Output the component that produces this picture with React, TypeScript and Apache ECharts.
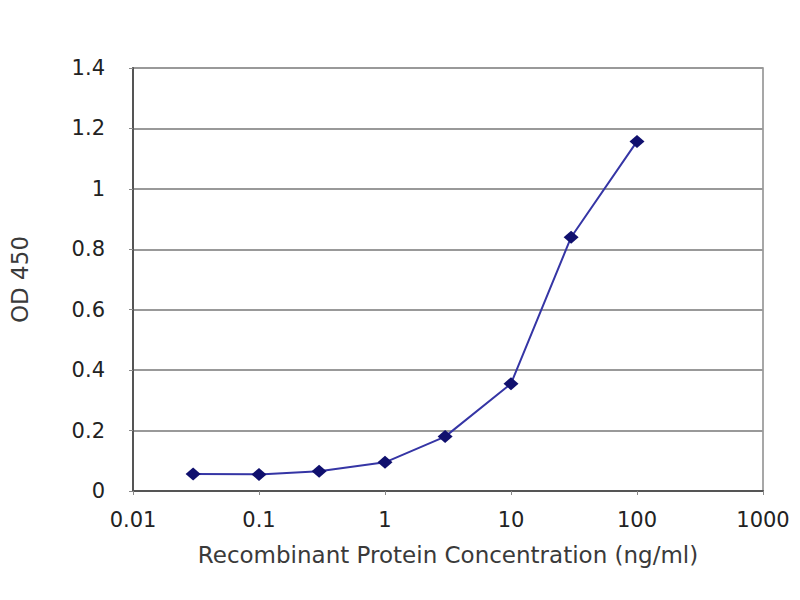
import React, { useEffect, useRef } from "react";
import * as echarts from "echarts";

const concentrations = [0.03, 0.1, 0.3, 1, 3, 10, 30, 100];
const od450 = [0.056, 0.055, 0.065, 0.095, 0.18, 0.355, 0.84, 1.157];
const xTickLabels = ["0.01", "0.1", "1", "10", "100", "1000"];
const yTicks = [0, 0.2, 0.4, 0.6, 0.8, 1, 1.2, 1.4];

export default function App() {
  const ref = useRef<HTMLDivElement>(null);
  useEffect(() => {
    if (!ref.current) return;
    const chart = echarts.init(ref.current, undefined, { renderer: "svg" });
    const font = "DejaVu Sans";
    chart.setOption({
      animation: false,
      backgroundColor: "#ffffff",
      grid: {
        left: 133,
        right: 37,
        top: 68,
        bottom: 109,
        show: true,
        borderColor: "#8a8a8a",
        borderWidth: 1.5,
      },
      xAxis: {
        type: "log",
        logBase: 10,
        min: 0.01,
        max: 1000,
        name: "Recombinant Protein Concentration (ng/ml)",
        nameLocation: "middle",
        nameGap: 52,
        nameTextStyle: { fontFamily: font, fontSize: 23, color: "#3a3a3a" },
        axisLine: { show: true, lineStyle: { color: "#555", width: 2 } },
        axisTick: { show: true, length: 4, lineStyle: { color: "#888" } },
        splitLine: { show: false },
        minorTick: { show: false },
        axisLabel: {
          fontFamily: font,
          fontSize: 21,
          color: "#222",
          margin: 18,
          formatter: (v: number) => {
            const idx = Math.round(Math.log10(v)) + 2;
            return xTickLabels[idx] ?? String(v);
          },
        },
      },
      yAxis: {
        type: "value",
        min: 0,
        max: 1.4,
        interval: 0.2,
        name: "OD 450",
        nameLocation: "middle",
        nameGap: 102,
        nameTextStyle: { fontFamily: font, fontSize: 23, color: "#3a3a3a" },
        axisLine: { show: true, lineStyle: { color: "#555", width: 2 } },
        axisTick: { show: true, length: 4, lineStyle: { color: "#888" } },
        splitLine: { show: true, lineStyle: { color: "#999", width: 2 } },
        axisLabel: {
          fontFamily: font,
          fontSize: 21,
          color: "#222",
          margin: 28,
          formatter: (v: number) => {
            const t = yTicks.find((y) => Math.abs(y - v) < 1e-6);
            return t === undefined ? "" : String(Number(t.toFixed(1)));
          },
        },
      },
      series: [
        {
          type: "line",
          data: concentrations.map((c, i) => [c, od450[i]]),
          symbol: "diamond",
          symbolSize: [15, 13],
          lineStyle: { color: "#3535a5", width: 2 },
          itemStyle: { color: "#10106e" },
        },
      ],
    });
    return () => chart.dispose();
  }, []);
  return (
    <div
      ref={ref}
      style={{ position: "fixed", left: 0, top: 0, width: 800, height: 600 }}
    />
  );
}
